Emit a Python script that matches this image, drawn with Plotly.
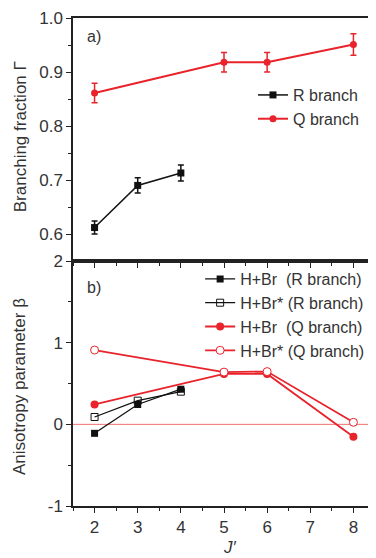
import plotly.graph_objects as go
from plotly.subplots import make_subplots

RED = "#e8232b"
BLACK = "#111111"

# Panel a) branching fraction
j_r = [2, 3, 4]
gamma_r = [0.612, 0.690, 0.713]
gamma_r_err = [0.012, 0.014, 0.015]
j_q = [2, 5, 6, 8]
gamma_q = [0.861, 0.918, 0.918, 0.951]
gamma_q_err = [0.018, 0.018, 0.018, 0.020]

# Panel b) anisotropy parameter
beta_br_r = [-0.11, 0.243, 0.43]
beta_brs_r = [0.09, 0.29, 0.40]
beta_br_q = [0.243, 0.617, 0.617, -0.152]
beta_brs_q = [0.91, 0.64, 0.646, 0.025]

x_ticks = [2, 3, 4, 5, 6, 7, 8]
ya_ticks = [0.6, 0.7, 0.8, 0.9, 1.0]
yb_ticks = [-1, 0, 1, 2]
yb_labels = ["-1", "0", "1", "2"]

fig = make_subplots(rows=2, cols=1, shared_xaxes=True, vertical_spacing=0)

fig.add_trace(go.Scatter(x=j_r, y=gamma_r, mode="lines+markers", name="R branch",
                         line=dict(color=BLACK, width=1.5),
                         marker=dict(symbol="square", size=7, color=BLACK),
                         error_y=dict(type="data", array=gamma_r_err, color=BLACK, thickness=1.5, width=3),
                         legend="legend"), row=1, col=1)
fig.add_trace(go.Scatter(x=j_q, y=gamma_q, mode="lines+markers", name="Q branch",
                         line=dict(color=RED, width=2),
                         marker=dict(symbol="circle", size=7, color=RED),
                         error_y=dict(type="data", array=gamma_q_err, color=RED, thickness=1.5, width=3),
                         legend="legend"), row=1, col=1)

# zero line
fig.add_trace(go.Scatter(x=[1.5, 8.5], y=[0, 0], mode="lines", line=dict(color="#f07070", width=1),
                         showlegend=False, hoverinfo="skip"), row=2, col=1)

fig.add_trace(go.Scatter(x=j_r, y=beta_br_r, mode="lines+markers", name="H+Br\u00a0\u00a0(R branch)",
                         line=dict(color=BLACK, width=1.3),
                         marker=dict(symbol="square", size=7, color=BLACK),
                         legend="legend2"), row=2, col=1)
fig.add_trace(go.Scatter(x=j_r, y=beta_brs_r, mode="lines+markers", name="H+Br* (R branch)",
                         line=dict(color=BLACK, width=1.3),
                         marker=dict(symbol="square-open", size=7, color=BLACK, line=dict(width=1)),
                         legend="legend2"), row=2, col=1)
fig.add_trace(go.Scatter(x=j_q, y=beta_br_q, mode="lines+markers", name="H+Br\u00a0\u00a0(Q branch)",
                         line=dict(color=RED, width=1.8),
                         marker=dict(symbol="circle", size=8, color=RED),
                         legend="legend2"), row=2, col=1)
fig.add_trace(go.Scatter(x=j_q, y=beta_brs_q, mode="lines+markers", name="H+Br* (Q branch)",
                         line=dict(color=RED, width=1.8),
                         marker=dict(symbol="circle", size=8, color="white", line=dict(color=RED, width=1)),
                         legend="legend2"), row=2, col=1)

font = "Liberation Sans, Arial, sans-serif"
axis_common = dict(showline=True, linecolor="#222", linewidth=1.5, mirror=True,
                   ticks="outside", tickcolor="#222", ticklen=5, tickwidth=1.2,
                   showgrid=False, zeroline=False, automargin=False,
                   tickfont=dict(family=font, size=17, color="#333"))

fig.update_xaxes(**axis_common, range=[1.5, 8.5], tickvals=x_ticks,
                 minor=dict(ticks="outside", ticklen=3, dtick=0.5, tickcolor="#222", showgrid=False))
fig.update_xaxes(showticklabels=False, row=1, col=1)

fig.update_yaxes(**axis_common)
fig.update_yaxes(range=[0.55, 1.0], tickvals=ya_ticks, tickformat=".1f",
                 minor=dict(ticks="outside", ticklen=3, tickvals=[0.65, 0.75, 0.85, 0.95], tickcolor="#222"),
                 row=1, col=1)
fig.update_yaxes(range=[-1, 2], tickvals=yb_ticks, ticktext=yb_labels,
                 minor=dict(ticks="outside", ticklen=3, tickvals=[-0.5, 0.5, 1.5], tickcolor="#222"),
                 row=2, col=1)

# page body has an 8px default margin: figure is sized so the plot lands where the reference has it
fig.update_layout(
    width=368, height=550,
    margin=dict(l=65, r=1, t=10, b=52),
    plot_bgcolor="white", paper_bgcolor="white",
    yaxis=dict(domain=[0.502, 1.0]),
    yaxis2=dict(domain=[0.0, 0.502]),
    legend=dict(x=0.596, y=0.877, xref="paper", yref="paper", xanchor="left", yanchor="top",
                bgcolor="rgba(0,0,0,0)", font=dict(family=font, size=16, color="#333"),
                itemwidth=30, tracegroupgap=0),
    legend2=dict(x=0.421, y=0.50, xref="paper", yref="paper", xanchor="left", yanchor="top",
                 bgcolor="rgba(0,0,0,0)", font=dict(family=font, size=16, color="#333"),
                 itemwidth=30, tracegroupgap=0),
    annotations=[
        dict(text="a)", x=0.04, y=0.963, xref="paper", yref="paper", xanchor="left", yanchor="middle",
             showarrow=False, font=dict(family=font, size=16, color="#333")),
        dict(text="b)", x=0.04, y=0.447, xref="paper", yref="paper", xanchor="left", yanchor="middle",
             showarrow=False, font=dict(family=font, size=16, color="#333")),
        dict(text="Branching fraction Γ", x=-0.175, y=0.756, xref="paper", yref="paper",
             xanchor="center", yanchor="middle", textangle=-90,
             showarrow=False, font=dict(family=font, size=17, color="#333")),
        dict(text="Anisotropy parameter β", x=-0.175, y=0.244, xref="paper", yref="paper",
             xanchor="center", yanchor="middle", textangle=-90,
             showarrow=False, font=dict(family=font, size=17, color="#333")),
        dict(text="<i>J′</i>", x=0.52, y=-0.085, xref="paper", yref="paper", xanchor="center", yanchor="middle",
             showarrow=False, font=dict(family=font, size=17, color="#333")),
    ],
)

fig.write_html("out.html")
